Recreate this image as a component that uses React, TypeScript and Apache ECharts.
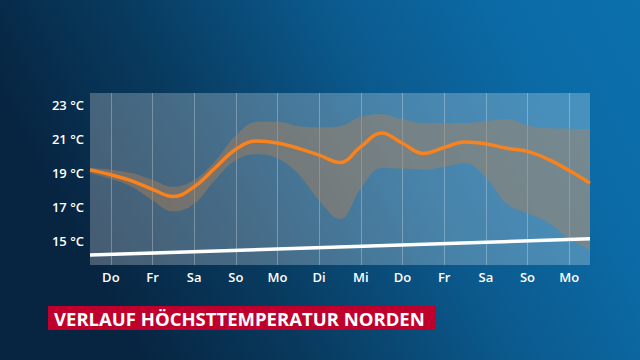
import React, { useEffect, useRef } from "react";
import * as echarts from "echarts";

const dayLabels = ["Do", "Fr", "Sa", "So", "Mo", "Di", "Mi", "Do", "Fr", "Sa", "So", "Mo"];
const yTickValues = [15, 17, 19, 21, 23];
const stepDays = [0, 0.5, 1, 1.5, 2, 2.5, 3, 3.5, 4, 4.5, 5, 5.5, 6, 6.5, 7, 7.5, 8, 8.5, 9, 9.5, 10, 10.5, 11, 11.5, 12];
const meanTemp = [19.19, 18.9, 18.55, 18.05, 17.63, 18.2, 19.3, 20.4, 20.88, 20.76, 20.45, 20.05, 19.62, 20.55, 21.35, 20.75, 20.15, 20.5, 20.82, 20.72, 20.45, 20.27, 19.8, 19.15, 18.41];
const upperTemp = [19.3, 19.2, 19.0, 18.6, 18.2, 18.6, 19.7, 21.2, 22.0, 22.0, 21.75, 21.68, 21.75, 22.3, 22.45, 22.15, 21.93, 21.93, 21.93, 22.05, 22.15, 21.8, 21.62, 21.6, 21.58];
const lowerTemp = [19.0, 18.65, 18.2, 17.4, 16.75, 17.2, 18.6, 19.75, 20.1, 19.85, 18.95, 17.4, 16.3, 18.1, 19.3, 19.25, 19.2, 19.37, 19.58, 18.75, 17.2, 16.65, 16.1, 15.15, 14.5];
const climateDays = [0, 12];
const climateTemp = [14.2, 15.15];
const titleText = "VERLAUF HÖCHSTTEMPERATUR NORDEN";

export default function App() {
  const ref = useRef<HTMLDivElement>(null);
  useEffect(() => {
    document.body.style.margin = "0";
    const chart = echarts.init(ref.current!, null, { renderer: "svg" });
    const labelCenters = dayLabels.map((_, i) => i + 0.5);
    chart.setOption({
      animation: false,
      graphic: [
        {
          type: "rect",
          z: -100,
          shape: { x: 0, y: 0, width: 640, height: 360 },
          style: {
            fill: new echarts.graphic.LinearGradient(0, 0.3, 1, 0, [
              { offset: 0, color: "#072440" },
              { offset: 0.25, color: "#083a5e" },
              { offset: 0.55, color: "#0b5a8e" },
              { offset: 0.8, color: "#0b6ba6" },
              { offset: 1, color: "#0b70ad" },
            ]),
          },
        },
        {
          type: "rect",
          shape: { x: 48, y: 306, width: 388, height: 24 },
          style: { fill: "#c0002c" },
        },
        {
          type: "text",
          x: 54,
          y: 318,
          style: {
            text: titleText,
            fill: "#ffffff",
            font: "bold 18.5px 'Open Sans'",
            textVerticalAlign: "middle",
          },
        },
      ],
      grid: {
        left: 90,
        right: 50,
        top: 93,
        bottom: 95,
        show: true,
        backgroundColor: "rgba(255,255,255,0.25)",
        borderWidth: 0,
      },
      xAxis: [
        {
          type: "value",
          min: 0,
          max: 12,
          axisLine: { show: false },
          axisTick: { show: false, customValues: labelCenters },
          axisLabel: {
            customValues: labelCenters,
            formatter: (v: number) => dayLabels[Math.floor(v)],
            color: "#ffffff",
            fontFamily: "Open Sans",
            fontWeight: 600,
            fontSize: 13,
            margin: 5,
          },
          splitLine: { show: true, lineStyle: { color: "rgba(255,255,255,0.28)", width: 1 } },
        },
        {
          type: "category",
          data: stepDays.map(String),
          boundaryGap: false,
          show: false,
        },
      ],
      yAxis: {
        type: "value",
        min: 13.62,
        max: 23.69,
        axisLine: { show: false },
        axisTick: { show: false },
        splitLine: { show: false },
        axisLabel: {
          customValues: yTickValues,
          formatter: (v: number) => `${v} °C`,
          color: "#ffffff",
          fontFamily: "Open Sans",
          fontWeight: 600,
          fontSize: 13,
          margin: 6,
        },
      },
      series: [
        {
          type: "line",
          xAxisIndex: 1,
          data: lowerTemp,
          stack: "band",
          smooth: 0.4,
          symbol: "none",
          lineStyle: { width: 0, opacity: 0 },
          silent: true,
        },
        {
          type: "line",
          xAxisIndex: 1,
          data: upperTemp.map((u, i) => +(u - lowerTemp[i]).toFixed(2)),
          stack: "band",
          smooth: 0.4,
          symbol: "none",
          lineStyle: { width: 0, opacity: 0 },
          areaStyle: { color: "rgba(178,128,88,0.62)" },
          silent: true,
        },
        {
          type: "line",
          data: climateDays.map((d, i) => [d, climateTemp[i]]),
          symbol: "none",
          lineStyle: { color: "#ffffff", width: 3.5 },
        },
        {
          type: "line",
          xAxisIndex: 1,
          data: meanTemp,
          smooth: 0.4,
          symbol: "none",
          lineStyle: { color: "#f7821e", width: 3.5 },
        },
      ],
    });
    return () => chart.dispose();
  }, []);
  return <div ref={ref} style={{ width: 640, height: 360 }} />;
}
